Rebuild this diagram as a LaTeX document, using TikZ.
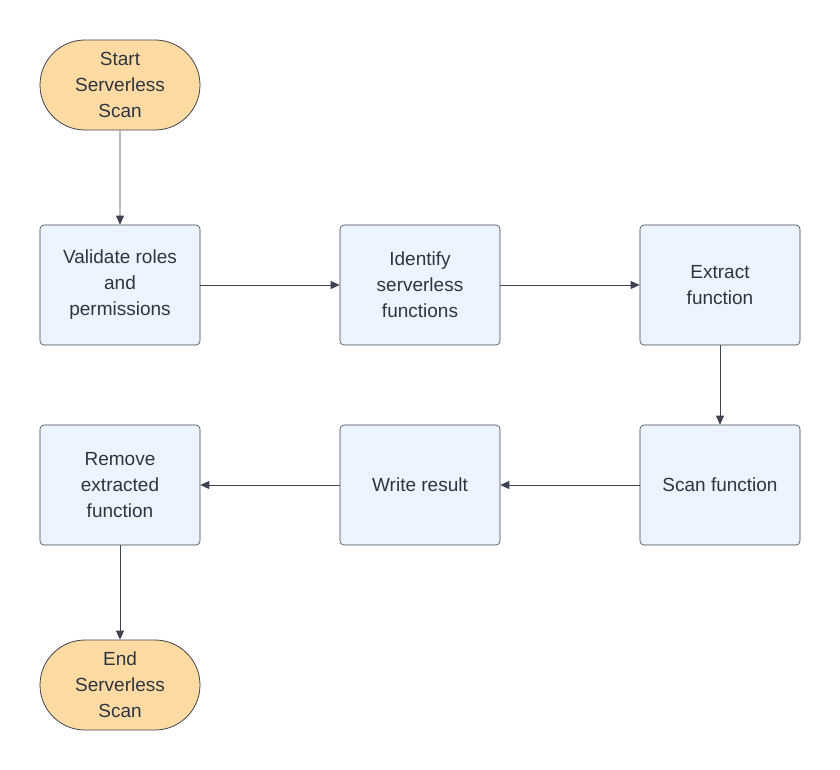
\documentclass[tikz,border=0pt]{standalone}
\usepackage{fontspec}
\setmainfont{Liberation Sans}
\usetikzlibrary{arrows.meta,shapes.misc}
\definecolor{term}{HTML}{FFDBA3}
\definecolor{boxf}{HTML}{EDF4FF}
\definecolor{ln}{HTML}{3D4350}
\definecolor{txt}{HTML}{2E3440}
\begin{document}
\begin{tikzpicture}[x=1pt,y=-1pt,
  every node/.style={font=\fontsize{19}{26}\selectfont, text=txt, align=center},
  term/.style={rounded rectangle, draw=ln, line width=0.8pt, fill=term, minimum width=160pt, minimum height=90pt, inner sep=0pt},
  box/.style={rectangle, rounded corners=4pt, draw=ln, line width=0.6pt, fill=boxf, minimum width=160pt, minimum height=120pt, inner sep=0pt},
  arr/.style={draw=ln, line width=0.8pt, -{Triangle[length=9pt,width=8pt]}}]
\useasboundingbox (0,0) rectangle (840,770);
\node[term] (start) at (120,85) {Start\\Serverless\\Scan};
\node[box] (val) at (120,285) {Validate roles\\and\\permissions};
\node[box] (ident) at (420,285) {Identify\\serverless\\functions};
\node[box] (extr) at (720,285) {Extract\\function};
\node[box] (scan) at (720,485) {Scan function};
\node[box] (write) at (420,485) {Write result};
\node[box] (rem) at (120,485) {Remove\\extracted\\function};
\node[term] (end) at (120,685) {End\\Serverless\\Scan};
\draw[arr] (start) -- (val);
\draw[arr] (val) -- (ident);
\draw[arr] (ident) -- (extr);
\draw[arr] (extr) -- (scan);
\draw[arr] (scan) -- (write);
\draw[arr] (write) -- (rem);
\draw[arr] (rem) -- (end);
\end{tikzpicture}
\end{document}
